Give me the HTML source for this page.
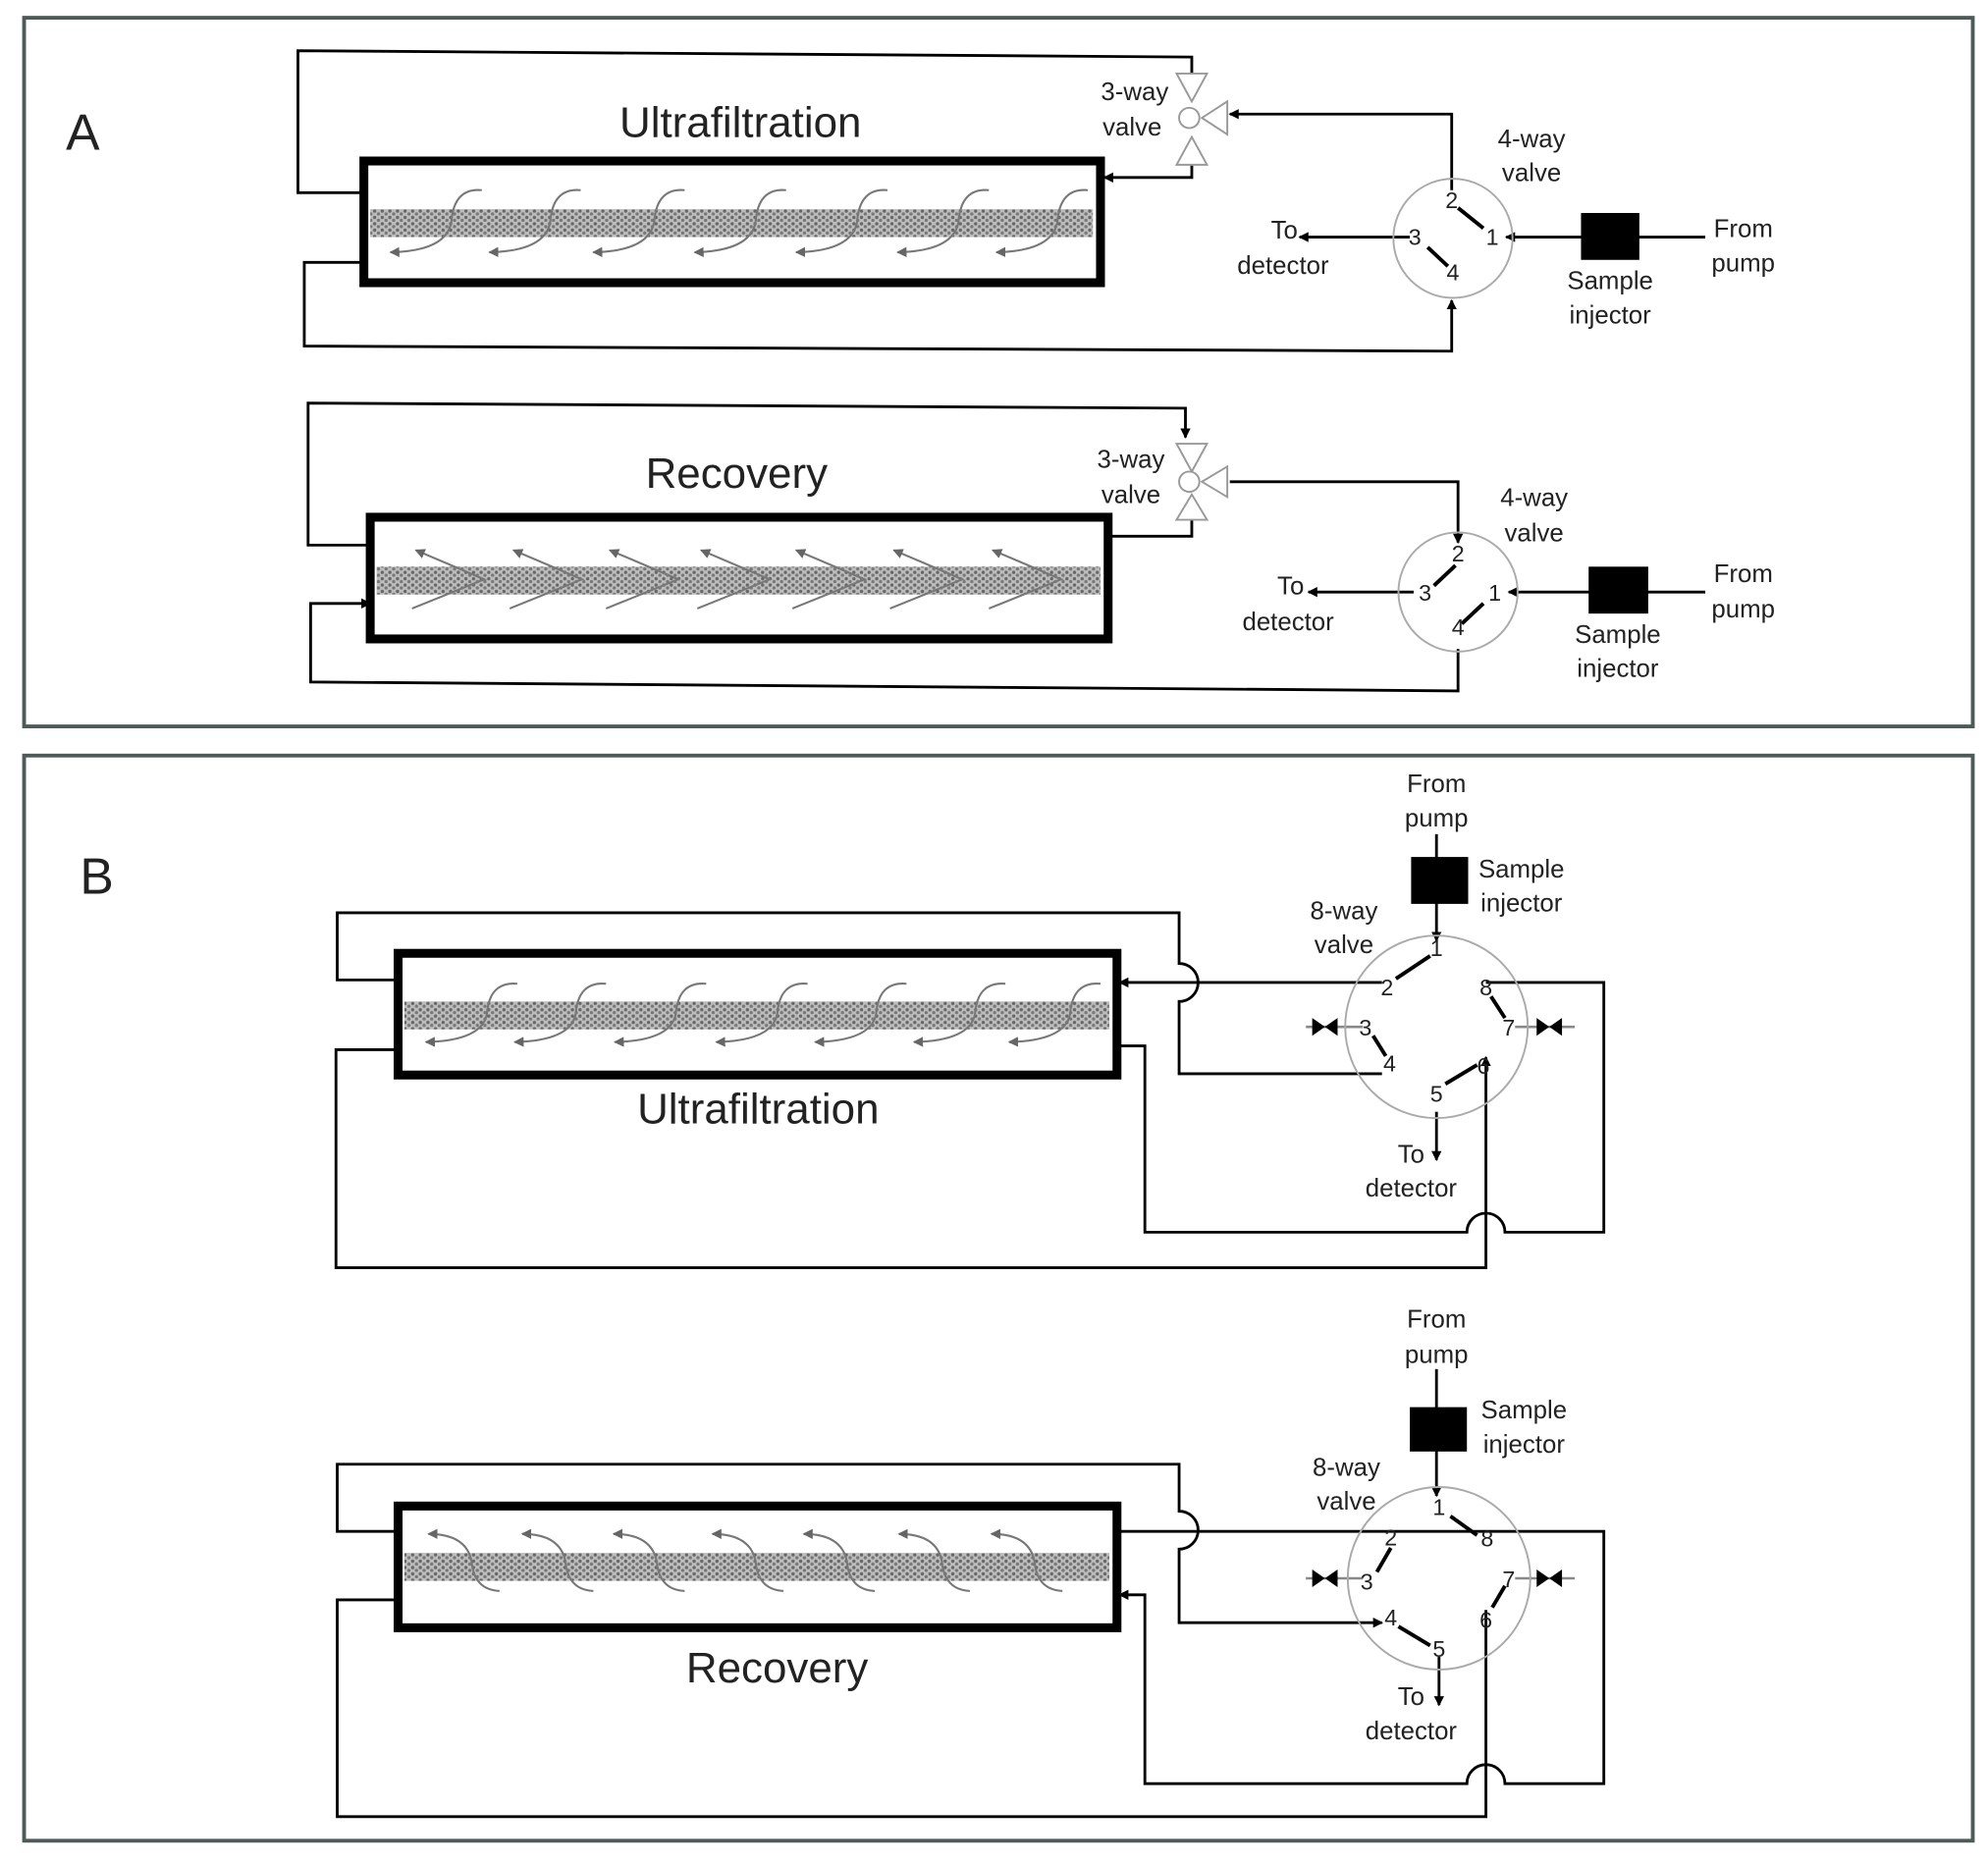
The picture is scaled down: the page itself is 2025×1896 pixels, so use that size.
<!DOCTYPE html>
<html><head><meta charset="utf-8"><style>
html,body{margin:0;padding:0;background:#fff;}
svg{display:block;}
text{font-family:"Liberation Sans",sans-serif;fill:#222;}
</style></head><body>
<svg width="2025" height="1896" viewBox="0 0 1568 1468" preserveAspectRatio="none" xmlns="http://www.w3.org/2000/svg">
<defs>
<marker id="ab" markerWidth="8" markerHeight="8" refX="7" refY="4" orient="auto" markerUnits="userSpaceOnUse"><path d="M0,0 L8,4 L0,8 Z" fill="#000"/></marker>
<marker id="ag" markerWidth="8" markerHeight="8" refX="7" refY="4" orient="auto" markerUnits="userSpaceOnUse"><path d="M0,0 L8,4 L0,8 Z" fill="#666"/></marker>
<pattern id="mem" width="6" height="5" patternUnits="userSpaceOnUse"><rect width="6" height="5" fill="#bdbdbd"/><circle cx="1.5" cy="1.5" r="1.3" fill="#666"/><circle cx="4.5" cy="3.8" r="1.3" fill="#777"/></pattern>
</defs>
<rect width="1568" height="1468" fill="#fff"/>
<rect x="19" y="14" width="1537" height="559" fill="none" stroke="#4c5b57" stroke-width="3"/>
<rect x="19" y="596" width="1537" height="856" fill="none" stroke="#4c5b57" stroke-width="3"/>

<g stroke="#000" stroke-width="2.2" fill="none">
<path d="M287,152 H235 V40 L940,45 V58"/>
<path d="M940,130 V140 H871" marker-end="url(#ab)"/>
<path d="M1145,150 V90 H970" marker-end="url(#ab)"/>
<path d="M1112,187 H1025" marker-end="url(#ab)"/>
<path d="M1345,187 H1188" marker-end="url(#ab)"/>
<path d="M287,207 H240 V273 L1145,277 V237" marker-end="url(#ab)"/>
<path d="M1150,164 L1170,180 M1126,195 L1142,210" stroke-width="3"/>
<path d="M292,430 H243 V318 L935,322 V345" marker-end="url(#ab)"/>
<path d="M874,423 H940 V410"/>
<path d="M970,380 H1150 V428" marker-end="url(#ab)"/>
<path d="M1115,467 H1032" marker-end="url(#ab)"/>
<path d="M1345,467 H1190" marker-end="url(#ab)"/>
<path d="M1150,512 V545 L245,538 V476 H292" marker-end="url(#ab)"/>
<path d="M1148,446 L1131,462 M1170,476 L1153,492" stroke-width="3"/>
<path d="M314,773 H266 V720 H930 V760 A15,15 0 0 1 930,790 V847 H1090"/>
<path d="M1090,775 H883" marker-end="url(#ab)"/>
<path d="M314,828 H265 V1000 H1172 V834" marker-end="url(#ab)"/>
<path d="M881,825 H903 V972 H1157 A15,15 0 0 1 1187,972 H1265 V775 H1172"/>
<path d="M1133,658 V742" marker-end="url(#ab)"/>
<path d="M1133,877 V915" marker-end="url(#ab)"/>
<path d="M1128,754 L1101,772 M1176,786 L1187,803 M1083,817 L1093,833 M1140,855 L1165,840" stroke-width="3"/>
<path d="M314,1208 H266 V1155 H930 V1192 A15,15 0 0 1 930,1222 V1280 H1090" marker-end="url(#ab)"/>
<path d="M881,1208 H1265 V1407 H1187 A15,15 0 0 0 1157,1407 H903 V1258 H883" marker-end="url(#ab)"/>
<path d="M314,1262 H266 V1433 H1172 V1270"/>
<path d="M1133,1080 V1180" marker-end="url(#ab)"/>
<path d="M1135,1307 V1345" marker-end="url(#ab)"/>
<path d="M1144,1196 L1165,1211 M1097,1221 L1086,1240 M1187,1251 L1177,1268 M1103,1283 L1128,1298" stroke-width="3"/>
</g>

<g stroke="#888" stroke-width="2"><path d="M1030,810 H1075 M1195,810 H1242 M1030,1245 H1075 M1195,1245 H1242"/></g>
<g fill="#000">
<path d="M1035,803 L1045,810 L1035,817 Z M1055,803 L1045,810 L1055,817 Z"/>
<path d="M1212,803 L1222,810 L1212,817 Z M1232,803 L1222,810 L1232,817 Z"/>
<path d="M1035,1238 L1045,1245 L1035,1252 Z M1055,1238 L1045,1245 L1055,1252 Z"/>
<path d="M1212,1238 L1222,1245 L1212,1252 Z M1232,1238 L1222,1245 L1232,1252 Z"/>
</g>

<g stroke="#000" stroke-width="7" fill="#fff">
<rect x="287" y="127" width="581" height="96"/>
<rect x="292" y="408" width="582" height="96"/>
<rect x="314" y="752" width="567" height="96"/>
<rect x="314" y="1188" width="567" height="96"/>
</g>
<g fill="url(#mem)">
<rect x="292" y="165" width="570" height="22"/>
<rect x="297" y="447" width="571" height="22"/>
<rect x="319" y="790" width="556" height="22"/>
<rect x="319" y="1225" width="556" height="22"/>
</g>

<g stroke="#777" stroke-width="1.6" fill="none">
<path marker-end="url(#ag)" d="M380,150 Q358,148 356,175 Q352,198 308,199"/>
<path marker-end="url(#ag)" d="M458,150 Q436,148 434,175 Q430,198 386,199"/>
<path marker-end="url(#ag)" d="M540,150 Q518,148 516,175 Q512,198 468,199"/>
<path marker-end="url(#ag)" d="M620,150 Q598,148 596,175 Q592,198 548,199"/>
<path marker-end="url(#ag)" d="M700,150 Q678,148 676,175 Q672,198 628,199"/>
<path marker-end="url(#ag)" d="M780,150 Q758,148 756,175 Q752,198 708,199"/>
<path marker-end="url(#ag)" d="M858,150 Q836,148 834,175 Q830,198 786,199"/>
<path marker-end="url(#ag)" d="M325,480 L382,457 L328,434"/>
<path marker-end="url(#ag)" d="M402,480 L459,457 L405,434"/>
<path marker-end="url(#ag)" d="M478,480 L535,457 L481,434"/>
<path marker-end="url(#ag)" d="M550,480 L607,457 L553,434"/>
<path marker-end="url(#ag)" d="M625,480 L682,457 L628,434"/>
<path marker-end="url(#ag)" d="M702,480 L759,457 L705,434"/>
<path marker-end="url(#ag)" d="M780,480 L837,457 L783,434"/>
<path marker-end="url(#ag)" d="M408,776 Q386,774 384,800 Q380,821 336,822"/>
<path marker-end="url(#ag)" d="M478,776 Q456,774 454,800 Q450,821 406,822"/>
<path marker-end="url(#ag)" d="M557,776 Q535,774 533,800 Q529,821 485,822"/>
<path marker-end="url(#ag)" d="M637,776 Q615,774 613,800 Q609,821 565,822"/>
<path marker-end="url(#ag)" d="M715,776 Q693,774 691,800 Q687,821 643,822"/>
<path marker-end="url(#ag)" d="M793,776 Q771,774 769,800 Q765,821 721,822"/>
<path marker-end="url(#ag)" d="M868,776 Q846,774 844,800 Q840,821 796,822"/>
<path marker-end="url(#ag)" d="M394,1255 Q374,1254 372,1232 Q368,1210 338,1210"/>
<path marker-end="url(#ag)" d="M468,1255 Q448,1254 446,1232 Q442,1210 412,1210"/>
<path marker-end="url(#ag)" d="M540,1255 Q520,1254 518,1232 Q514,1210 484,1210"/>
<path marker-end="url(#ag)" d="M618,1255 Q598,1254 596,1232 Q592,1210 562,1210"/>
<path marker-end="url(#ag)" d="M690,1255 Q670,1254 668,1232 Q664,1210 634,1210"/>
<path marker-end="url(#ag)" d="M765,1255 Q745,1254 743,1232 Q739,1210 709,1210"/>
<path marker-end="url(#ag)" d="M838,1255 Q818,1254 816,1232 Q812,1210 782,1210"/>
</g>

<g stroke="#999" stroke-width="1.5" fill="#fff">
<path d="M928,58 L952,58 L940,80 Z M928,130 L952,130 L940,108 Z M968,80 L968,106 L948,93 Z"/>
<circle cx="938" cy="93" r="8"/>
<path d="M928,350 L952,350 L940,372 Z M928,410 L952,410 L940,390 Z M968,368 L968,392 L948,380 Z"/>
<circle cx="938" cy="380" r="8"/>
</g>

<g stroke="#aaa" stroke-width="1.5" fill="none">
<circle cx="1146" cy="188" r="47"/>
<circle cx="1150" cy="467" r="47"/>
<circle cx="1133" cy="810" r="72"/>
<circle cx="1135" cy="1245" r="72"/>
</g>

<g fill="#000">
<rect x="1247" y="168" width="46" height="37"/>
<rect x="1253" y="447" width="47" height="37"/>
<rect x="1113" y="676" width="45" height="37"/>
<rect x="1112" y="1110" width="45" height="35"/>
</g>

<text x="52" y="118" font-size="40">A</text>
<text x="63" y="705" font-size="40">B</text>
<g font-size="34" text-anchor="middle">
<text x="584" y="108">Ultrafiltration</text>
<text x="581" y="385">Recovery</text>
<text x="598" y="886">Ultrafiltration</text>
<text x="613" y="1327">Recovery</text>
</g>
<g font-size="20" text-anchor="middle">
<text x="895" y="79">3-way</text><text x="893" y="107">valve</text>
<text x="1208" y="116">4-way</text><text x="1208" y="143">valve</text>
<text x="1013" y="188">To</text><text x="1012" y="216">detector</text>
<text x="1270" y="228">Sample</text><text x="1270" y="255">injector</text>
<text x="1375" y="187">From</text><text x="1375" y="214">pump</text>
<text x="892" y="369">3-way</text><text x="892" y="397">valve</text>
<text x="1210" y="399">4-way</text><text x="1210" y="427">valve</text>
<text x="1018" y="469">To</text><text x="1016" y="497">detector</text>
<text x="1276" y="507">Sample</text><text x="1276" y="534">injector</text>
<text x="1375" y="459">From</text><text x="1375" y="487">pump</text>
<text x="1133" y="625">From</text><text x="1133" y="652">pump</text>
<text x="1200" y="692">Sample</text><text x="1200" y="719">injector</text>
<text x="1060" y="725">8-way</text><text x="1060" y="752">valve</text>
<text x="1113" y="917">To</text><text x="1113" y="944">detector</text>
<text x="1133" y="1047">From</text><text x="1133" y="1075">pump</text>
<text x="1202" y="1119">Sample</text><text x="1202" y="1146">injector</text>
<text x="1062" y="1164">8-way</text><text x="1062" y="1191">valve</text>
<text x="1113" y="1345">To</text><text x="1113" y="1372">detector</text>
</g>
<g font-size="18" text-anchor="middle">
<text x="1145" y="164">2</text><text x="1177" y="193">1</text><text x="1116" y="193">3</text><text x="1146" y="221">4</text>
<text x="1150" y="443">2</text><text x="1179" y="474">1</text><text x="1124" y="474">3</text><text x="1150" y="501">4</text>
<text x="1133" y="754">1</text><text x="1094" y="785">2</text><text x="1172" y="785">8</text><text x="1077" y="817">3</text><text x="1190" y="817">7</text><text x="1096" y="845">4</text><text x="1170" y="847">6</text><text x="1133" y="869">5</text>
<text x="1135" y="1195">1</text><text x="1097" y="1219">2</text><text x="1173" y="1220">8</text><text x="1078" y="1254">3</text><text x="1190" y="1252">7</text><text x="1097" y="1282">4</text><text x="1172" y="1284">6</text><text x="1135" y="1307">5</text>
</g>
</svg>
</body></html>
